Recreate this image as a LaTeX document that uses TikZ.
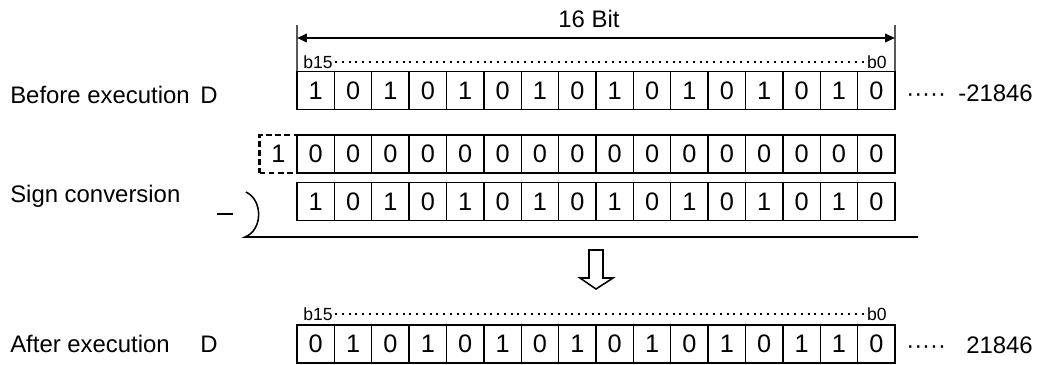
\documentclass[tikz,border=0pt]{standalone}
\usepackage{fontspec}
\setmainfont{Liberation Sans}
\usetikzlibrary{arrows.meta}
\tikzset{
  cell/.style={draw=black,line width=0.9pt,minimum width=0.934cm,minimum height=0.95cm,inner sep=0pt,outer sep=0pt,
               font=\fontsize{18}{21}\selectfont},
  ghost/.style={cell,line width=1.6pt,dash pattern=on 4pt off 2.5pt},
  lbl/.style={font=\fontsize{17}{20}\selectfont,inner sep=0pt},
  bitno/.style={font=\fontsize{12.5}{14}\selectfont,inner sep=1.5pt},
  dotline/.style={line width=1.5pt,dash pattern=on 1.5pt off 3.3pt},
  span/.style={{Triangle[length=7pt,width=6pt]}-{Triangle[length=7pt,width=6pt]},line width=1.4pt},
  tick/.style={line width=0.8pt},
  hollow/.style={draw,line width=1.1pt,fill=white},
}
\begin{document}
\begin{tikzpicture}[x=0.025cm,y=-0.025cm]
  \useasboundingbox (0,0) rectangle (1040,364);
  \node[lbl,anchor=base west] (before) at (10,103) {Before execution};
  \node[lbl,anchor=base west] (dA) at (200,103) {D};
  \node[lbl,anchor=base west] (conv) at (10,202) {Sign conversion};
  \node[lbl,anchor=base west] (after) at (10,352) {After execution};
  \node[lbl,anchor=base west] (dR) at (200,352) {D};
  \node[ghost] (sign) at (278.3,154) {1};
  \foreach \b [count=\i from 0] in {1,0,1,0,1,0,1,0,1,0,1,0,1,0,1,0}
    \node[cell] (a\i) at (315.69+37.375*\i,90.5) {\b};
  \foreach \b [count=\i from 0] in {0,0,0,0,0,0,0,0,0,0,0,0,0,0,0,0}
    \node[cell] (z\i) at (315.69+37.375*\i,154) {\b};
  \foreach \b [count=\i from 0] in {1,0,1,0,1,0,1,0,1,0,1,0,1,0,1,0}
    \node[cell] (s\i) at (315.69+37.375*\i,201.5) {\b};
  \foreach \b [count=\i from 0] in {0,1,0,1,0,1,0,1,0,1,0,1,0,1,1,0}
    \node[cell] (r\i) at (315.69+37.375*\i,344) {\b};
  \coordinate (lt) at (297,25);
  \coordinate (rt) at (895,25);
  \coordinate (al) at (297,38);
  \coordinate (ar) at (895,38);
  \draw[tick] (a0.north west) -- (lt);
  \draw[tick] (a15.north east) -- (rt);
  \draw[span] (al) -- (ar);
  \node[lbl,anchor=base] (width) at (589,27) {16 Bit};
  \node[bitno,anchor=base west] (hiA) at (301,68) {b15};
  \node[bitno,anchor=base east] (loA) at (889,68) {b0};
  \draw[dotline] (hiA.east) -- (loA.west);
  \node[bitno,anchor=base west] (hiR) at (301,320) {b15};
  \node[bitno,anchor=base east] (loR) at (889,320) {b0};
  \draw[dotline] (hiR.east) -- (loR.west);
  \node[lbl,anchor=base west] (dotsA) at (906,101) {·····};
  \node[lbl,anchor=base east] (valA) at (1033,101) {-21846};
  \node[lbl,anchor=base west] (dotsR) at (906,353) {·····};
  \node[lbl,anchor=base east] (valR) at (1033,353) {21846};
  \node[lbl] (minus) at (225,214) {\rule{0.4cm}{0.8pt}};
  \draw[line width=1.1pt] (246,192) .. controls (263,200) and (263,230) .. (245,237) -- (918,237);
  \draw[hollow] (589,250) -- (603,250) -- (603,278) -- (613,278) -- (596,289) -- (580,278) -- (589,278) -- cycle;
\end{tikzpicture}
\end{document}
